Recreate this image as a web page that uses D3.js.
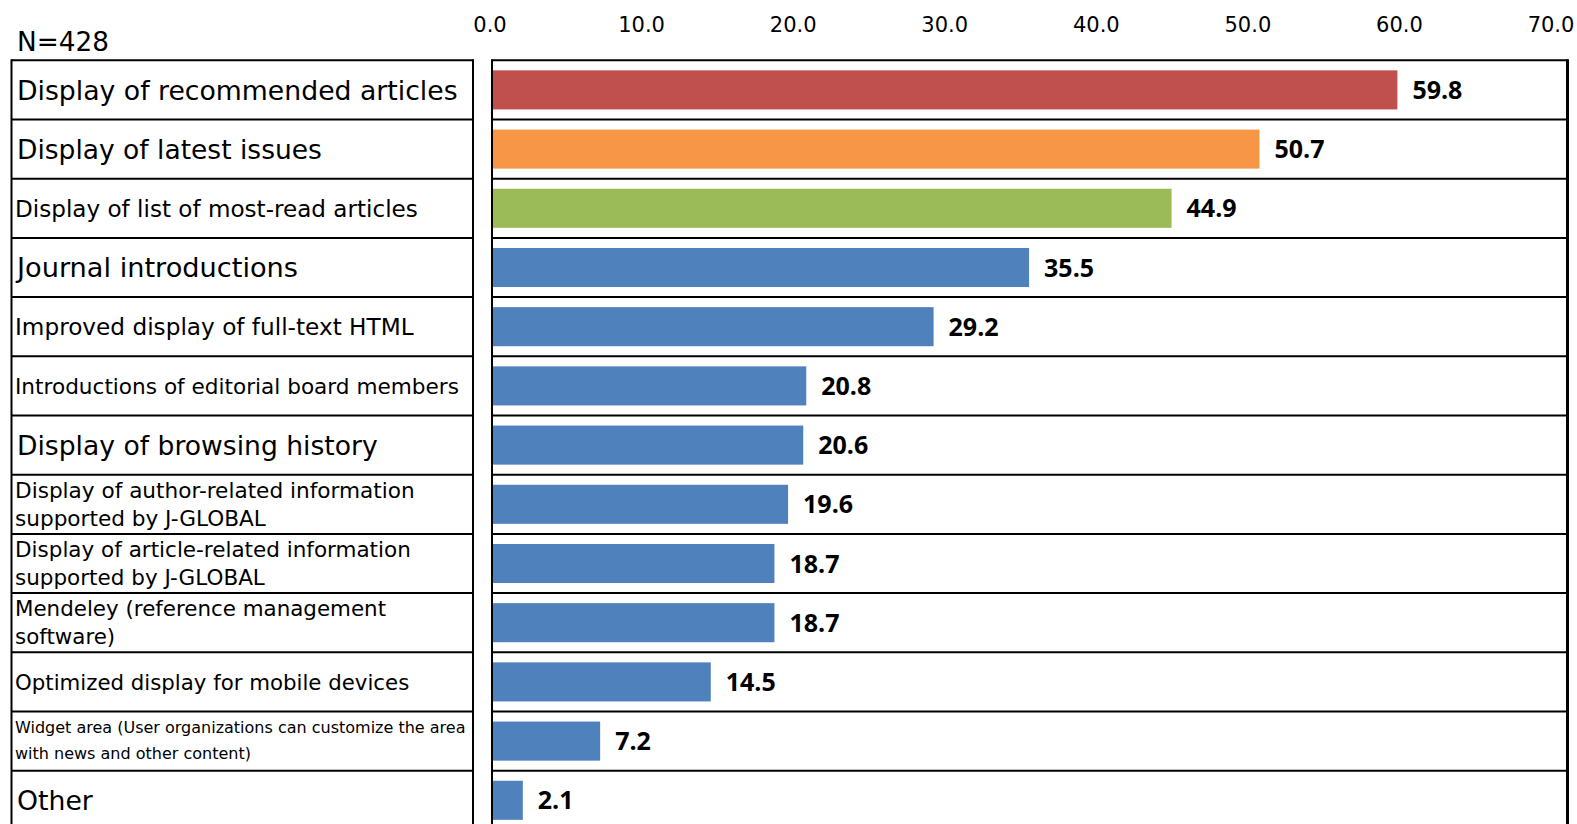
<!DOCTYPE html>
<html>
<head>
<meta charset="utf-8">
<script src="https://cdn.jsdelivr.net/npm/d3@7"></script>
<style>
  html, body { margin: 0; padding: 0; background: #fff; overflow: hidden; }
  svg { display: block; }
</style>
</head>
<body>
<svg id="chart" width="1577" height="824"></svg>
<script>
// Survey items (N=428), share of respondents in %
const categories = [
  "Display of recommended articles",
  "Display of latest issues",
  "Display of list of most-read articles",
  "Journal introductions",
  "Improved display of full-text HTML",
  "Introductions of editorial board members",
  "Display of browsing history",
  "Display of author-related information\nsupported by J-GLOBAL",
  "Display of article-related information\nsupported by J-GLOBAL",
  "Mendeley (reference management\nsoftware)",
  "Optimized display for mobile devices",
  "Widget area (User organizations can customize the area\nwith news and other content)",
  "Other"
];
const values = [59.8, 50.7, 44.9, 35.5, 29.2, 20.8, 20.6, 19.6, 18.7, 18.7, 14.5, 7.2, 2.1];
const axisTicks = [0, 10, 20, 30, 40, 50, 60, 70];
const sampleNote = "N=428";

// Styling
const barColors = ["#C0504D", "#F79646", "#9BBB59", "#4F81BD", "#4F81BD", "#4F81BD", "#4F81BD",
                   "#4F81BD", "#4F81BD", "#4F81BD", "#4F81BD", "#4F81BD", "#4F81BD"];
const labelSizes = [26.7, 26.5, 23.1, 27.2, 23.2, 21.6, 26.6, 21.6, 21.5, 21.4, 21.3, 16, 26.7];
const lineGaps   = [0, 0, 0, 0, 0, 0, 0, 27.7, 27.7, 27.7, 0, 25.6, 0];
const labelFont = "'DejaVu Sans', Verdana, sans-serif";
const valueFont = "'Open Sans', 'Liberation Sans', sans-serif";

const svg = d3.select("#chart");

const rowTop = 60.3, rowStep = 59.2;
const tableLeft = 11.5, tableRight = 473;
const plotLeft = 492, plotRight = 1567.5;

const rows = d3.scaleBand()
  .domain(categories)
  .range([rowTop, rowTop + rowStep * categories.length])
  .padding(0);

const bars = d3.scaleBand()
  .domain(categories)
  .range(rows.range())
  .paddingInner(0.34)
  .paddingOuter(0.17);

const x = d3.scaleLinear().domain([0, 70]).range([491, 1552]);

// Top value axis (labels only)
const axis = svg.append("g")
  .attr("transform", "translate(-1.5,35)")
  .call(d3.axisTop(x).tickValues(axisTicks).tickFormat(d3.format(".1f")).tickSize(0).tickPadding(3));
axis.select(".domain").remove();
axis.selectAll("text")
  .attr("font-family", labelFont)
  .attr("font-size", 21)
  .attr("fill", "#000");

// Sample size note
svg.append("text")
  .attr("x", 17).attr("y", 51)
  .attr("font-family", labelFont)
  .attr("font-size", 26.3)
  .attr("fill", "#000")
  .text(sampleNote);

// Bars
svg.append("g").selectAll("rect")
  .data(categories)
  .join("rect")
  .attr("x", x(0))
  .attr("y", d => bars(d))
  .attr("width", (d, i) => x(values[i]) - x(0))
  .attr("height", bars.bandwidth())
  .attr("fill", (d, i) => barColors[i]);

// Grid: row separators for the label table and the plot panel
const grid = svg.append("g").attr("stroke", "#000").attr("stroke-width", 2);
const lineYs = categories.map(c => rows(c)).concat([rows.range()[1]]);
grid.selectAll("line.tbl")
  .data(lineYs)
  .join("line")
  .attr("class", "tbl")
  .attr("x1", tableLeft).attr("x2", tableRight)
  .attr("y1", d => d).attr("y2", d => d);
grid.selectAll("line.plt")
  .data(lineYs)
  .join("line")
  .attr("class", "plt")
  .attr("x1", plotLeft).attr("x2", plotRight)
  .attr("y1", d => d).attr("y2", d => d);
[tableLeft, tableRight, plotLeft].forEach(xx => {
  grid.append("line")
    .attr("x1", xx).attr("x2", xx)
    .attr("y1", rowTop - 1).attr("y2", rows.range()[1] + 1);
});
grid.append("line")
  .attr("x1", plotRight).attr("x2", plotRight)
  .attr("y1", rowTop - 1).attr("y2", rows.range()[1] + 1)
  .attr("stroke-width", 3);

// Category labels
const labels = svg.append("g").selectAll("text")
  .data(categories)
  .join("text")
  .attr("font-family", labelFont)
  .attr("font-size", (d, i) => labelSizes[i])
  .attr("fill", "#000");
labels.each(function (d, i) {
  const lines = d.split("\n");
  const fs = labelSizes[i];
  const t = d3.select(this);
  const mid = rows(d) + rows.bandwidth() / 2;
  if (lines.length === 1) {
    t.append("tspan")
      .attr("x", fs >= 25 ? 17 : 15)
      .attr("y", mid + fs * 0.36)
      .text(lines[0]);
  } else {
    const gap = lineGaps[i];
    const base = mid + (i === 11 ? 4.9 : 7.6);
    lines.forEach((ln, k) => {
      t.append("tspan")
        .attr("x", 15)
        .attr("y", base + (k - 0.5) * gap)
        .text(ln);
    });
  }
});

// Value labels
svg.append("g").selectAll("text")
  .data(categories)
  .join("text")
  .attr("x", (d, i) => x(values[i]) + 15)
  .attr("y", d => bars(d) + bars.bandwidth() / 2)
  .attr("dy", "0.36em")
  .attr("font-family", valueFont)
  .attr("font-weight", 700)
  .attr("font-size", 25)
  .attr("fill", "#000")
  .text((d, i) => d3.format(".1f")(values[i]));
</script>
</body>
</html>
